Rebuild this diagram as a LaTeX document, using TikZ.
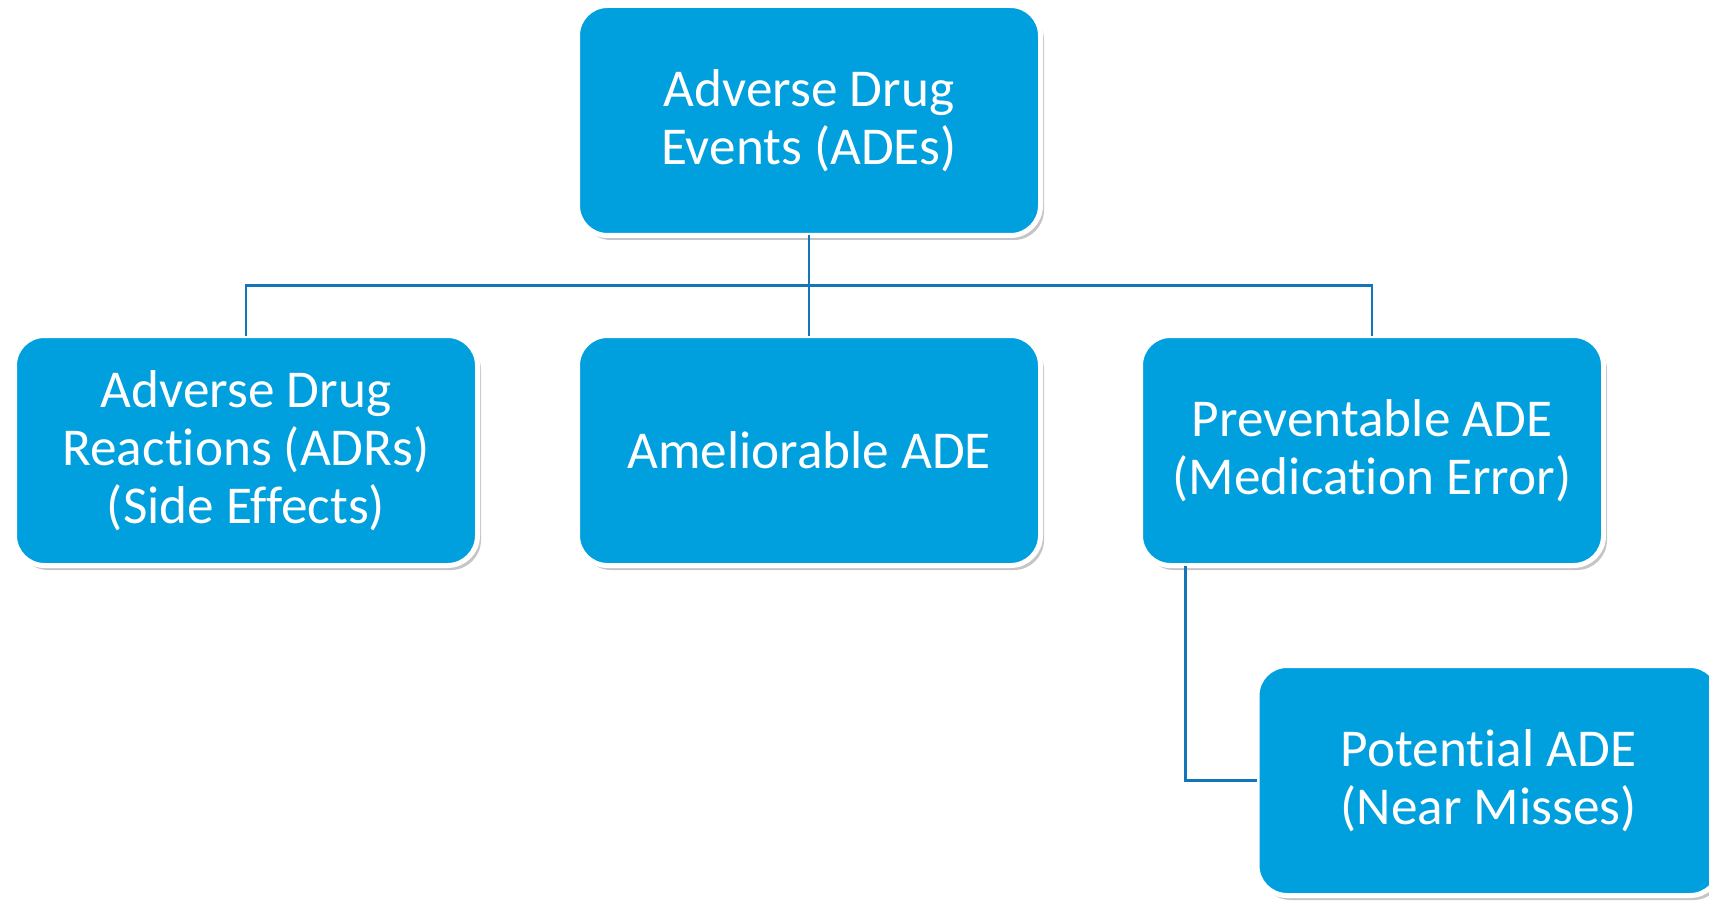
\documentclass[tikz,border=0pt]{standalone}
\usepackage{fontspec}
\setmainfont{Carlito}[Ligatures={NoCommon}]
\usepackage{tikz}
\usetikzlibrary{positioning, calc, shadows}
\definecolor{boxblue}{RGB}{0,159,221}
\definecolor{lineblue}{RGB}{20,118,184}

\begin{document}
\begin{tikzpicture}[
  node distance=2.0cm,
  adebox/.style={draw=white, line width=0.1cm, fill=boxblue, rounded corners=0.6cm,
    minimum width=9.26cm, minimum height=4.6cm, outer sep=0pt, align=center,
    text=white, font=\fontsize{30.3pt}{33pt}\selectfont,
    drop shadow={shadow xshift=0.07cm, shadow yshift=-0.09cm, fill=black!45, opacity=0.5}},
  link/.style={draw=lineblue, line width=0.05cm},
]
  \useasboundingbox (0,0) rectangle (34.18,18);

  % Root
  \node (ade) [adebox] at (16.18,15.59) {Adverse Drug\\Events (ADEs)};

  % Second row
  \node (amel) [adebox, below=of ade] {Ameliorable ADE};
  \node (adr) [adebox, left=of amel] {Adverse Drug\\Reactions (ADRs)\\(Side Effects)};
  \node (prev) [adebox, right=of amel] {Preventable ADE\\(Medication Error)};

  % Third row
  \node (pot) [adebox, below=of prev, xshift=2.33cm] {Potential ADE\\(Near Misses)};

  % Connectors
  \coordinate (bus) at ($(ade.south)!0.5!(amel.north)$);
  \draw [link] (ade.south) -- (bus);
  \foreach \n in {adr, amel, prev} {
    \draw [link] (bus) -| (\n.north);
  }
  \draw [link] ([xshift=0.9cm]prev.south west) |- (pot.west);

\end{tikzpicture}
\end{document}
